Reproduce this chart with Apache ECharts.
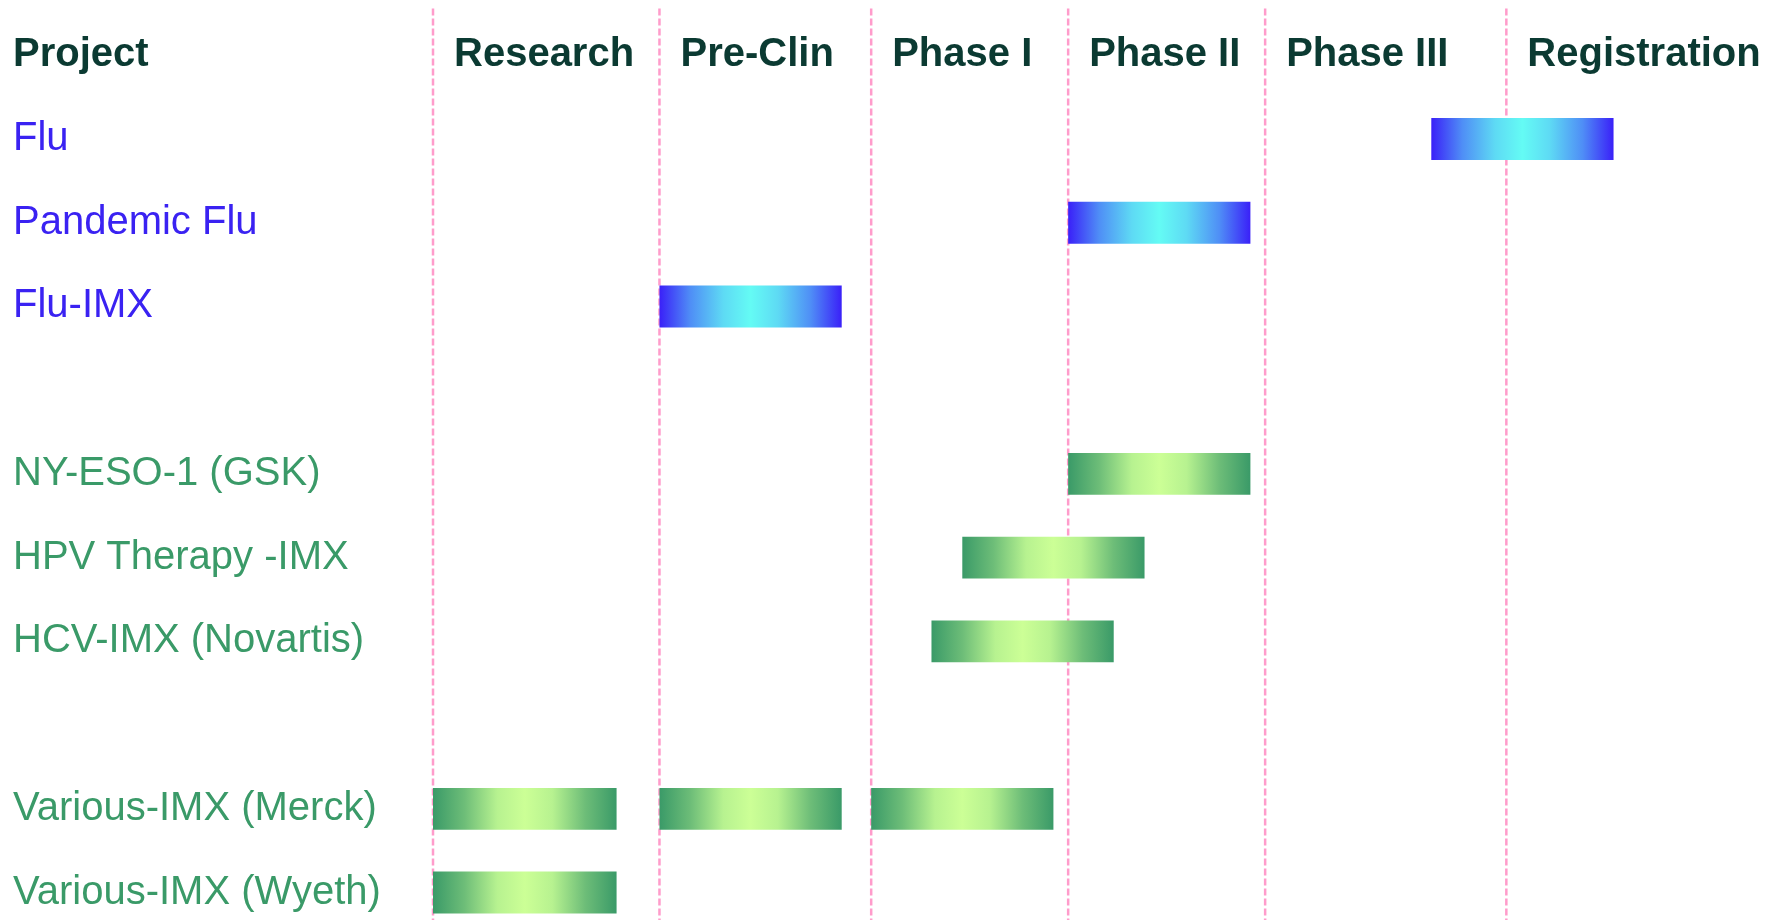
<!DOCTYPE html>
<html>
<head>
<meta charset="utf-8">
<title>Project pipeline</title>
<script src="https://cdn.jsdelivr.net/npm/echarts@6/dist/echarts.min.js"></script>
<style>
  html, body { margin: 0; padding: 0; background: #ffffff; }
  #chart { width: 1773px; height: 920px; }
</style>
</head>
<body>
<div id="chart"></div>
<script>
// Rows of the pipeline table (blank entries are spacer rows between programme groups)
const rowCategories = [
  'Project',
  'Flu', 'Pandemic Flu', 'Flu-IMX',
  ' ',
  'NY-ESO-1 (GSK)', 'HPV Therapy -IMX', 'HCV-IMX (Novartis)',
  '  ',
  'Various-IMX (Merck)', 'Various-IMX (Wyeth)'
];

// Influenza programmes are drawn in blue, partnered programmes in green
const fluProjects = ['Flu', 'Pandemic Flu', 'Flu-IMX'];

// Development phases and where each one starts on the timeline (0–100)
const phases = ['Research', 'Pre-Clin', 'Phase I', 'Phase II', 'Phase III', 'Registration'];
const phaseStarts = [0, 16.9, 32.7, 47.4, 62.1, 80.1];
const timelineMax = 100;

// Progress bars: project, start and end on the timeline
const stageProject = [
  'Flu', 'Pandemic Flu', 'Flu-IMX',
  'NY-ESO-1 (GSK)', 'HPV Therapy -IMX', 'HCV-IMX (Novartis)',
  'Various-IMX (Merck)', 'Various-IMX (Merck)', 'Various-IMX (Merck)',
  'Various-IMX (Wyeth)'
];
const stageStart = [74.5, 47.4, 16.9, 47.4, 39.5, 37.2, 0, 16.9, 32.7, 0];
const stageEnd   = [88.1, 61.0, 30.5, 61.0, 53.1, 50.8, 13.7, 30.5, 46.3, 13.7];

const FONT = '"Liberation Sans", Arial, sans-serif';
const HEADER_COLOR = '#0b3a32';
const BLUE_TEXT = '#3a22f2';
const GREEN_TEXT = '#3a9a68';

// symmetric "tube" shading: dark edges, light centre
function blueFill() {
  return new echarts.graphic.LinearGradient(0, 0, 1, 0, [
    { offset: 0, color: '#3a20f8' },
    { offset: 0.17, color: '#4f8ef6' },
    { offset: 0.35, color: '#5edaf4' },
    { offset: 0.5, color: '#64fbf4' },
    { offset: 0.65, color: '#5edaf4' },
    { offset: 0.83, color: '#4f8ef6' },
    { offset: 1, color: '#3a20f8' }
  ]);
}
function greenFill() {
  return new echarts.graphic.LinearGradient(0, 0, 1, 0, [
    { offset: 0, color: '#3a9a68' },
    { offset: 0.17, color: '#6dbd78' },
    { offset: 0.35, color: '#b7f290' },
    { offset: 0.5, color: '#ccff96' },
    { offset: 0.65, color: '#b7f290' },
    { offset: 0.83, color: '#6dbd78' },
    { offset: 1, color: '#3a9a68' }
  ]);
}

const stageData = stageProject.map((p, i) => [stageStart[i], stageEnd[i], rowCategories.indexOf(p), fluProjects.includes(p) ? 1 : 0]);
const phaseData = phases.map((name, i) => [phaseStarts[i], 0, name]);

const chart = echarts.init(document.getElementById('chart'), null, { renderer: 'canvas' });

chart.setOption({
  backgroundColor: '#ffffff',
  animation: false,
  grid: { left: 433, right: 0, top: 13.4, height: 921, containLabel: false, outerBoundsMode: 'none' },
  xAxis: {
    type: 'value', min: 0, max: timelineMax, show: false
  },
  yAxis: {
    type: 'category',
    inverse: true,
    data: rowCategories,
    axisLine: { show: false },
    axisTick: { show: false },
    splitLine: { show: false },
    axisLabel: {
      align: 'left',
      margin: 420,
      fontFamily: FONT,
      fontSize: 40,
      formatter: function (v, i) {
        if (i === 0) return '{h|' + v + '}';
        return fluProjects.includes(v) ? '{b|' + v + '}' : '{g|' + v + '}';
      },
      rich: {
        h: { fontFamily: FONT, fontSize: 40, fontWeight: 'bold', color: HEADER_COLOR },
        b: { fontFamily: FONT, fontSize: 40, color: BLUE_TEXT },
        g: { fontFamily: FONT, fontSize: 40, color: GREEN_TEXT }
      }
    }
  },
  series: [
    {
      // phase divider lines and phase headings
      type: 'custom',
      silent: true,
      data: phaseData,
      encode: { x: 0, y: 1 },
      renderItem: function (params, api) {
        const pos = api.coord([api.value(0), 0]);
        const cs = params.coordSys;
        return {
          type: 'group',
          children: [
            {
              type: 'line',
              shape: { x1: pos[0], y1: cs.y - 5, x2: pos[0], y2: cs.y + cs.height },
              style: { stroke: '#ff9ccb', lineWidth: 2.5, lineDash: [7, 3] }
            },
            {
              type: 'text',
              style: {
                text: phaseData[params.dataIndex][2],
                x: pos[0] + 21,
                y: pos[1],
                align: 'left',
                verticalAlign: 'middle',
                font: 'bold 40px ' + FONT,
                fill: HEADER_COLOR
              }
            }
          ]
        };
      }
    },
    {
      // progress bars
      type: 'custom',
      data: stageData,
      encode: { x: [0, 1], y: 2 },
      renderItem: function (params, api) {
        const start = api.coord([api.value(0), api.value(2)]);
        const end = api.coord([api.value(1), api.value(2)]);
        const h = api.size([0, 1])[1] * 0.5;
        return {
          type: 'rect',
          shape: { x: start[0], y: start[1] - h / 2, width: end[0] - start[0], height: h },
          style: { fill: api.value(3) === 1 ? blueFill() : greenFill() }
        };
      }
    }
  ]
});
</script>
</body>
</html>
